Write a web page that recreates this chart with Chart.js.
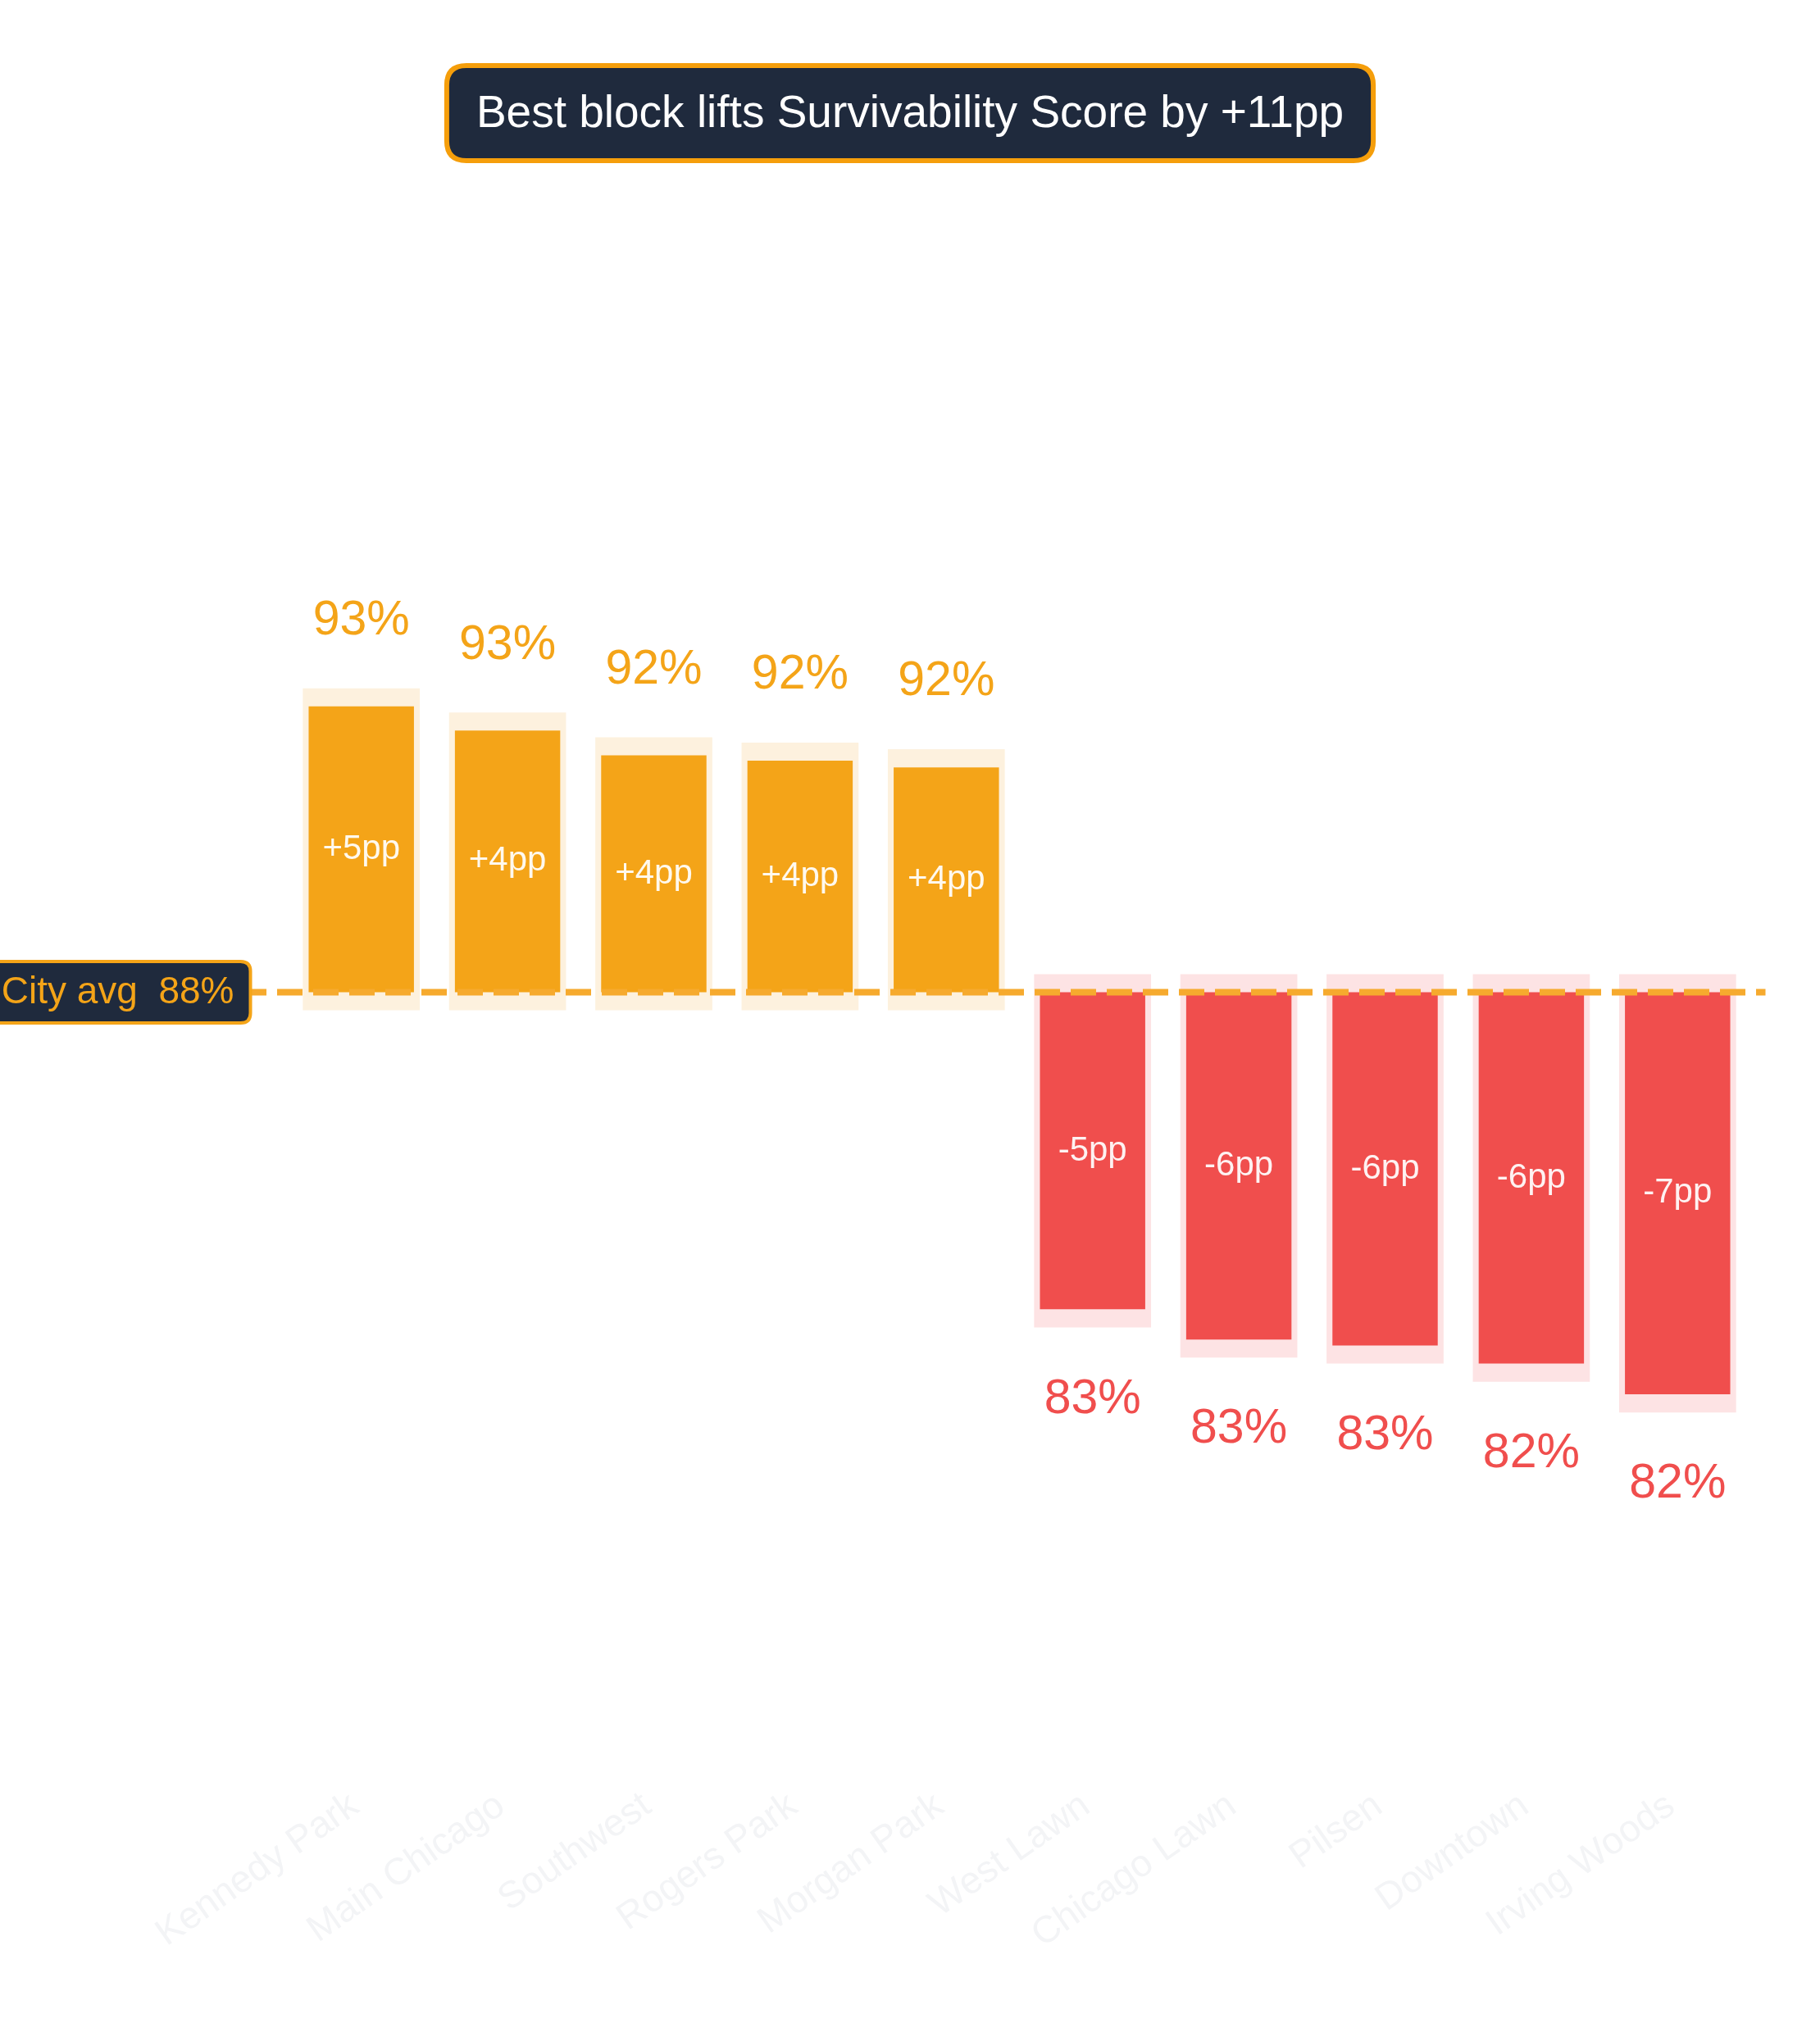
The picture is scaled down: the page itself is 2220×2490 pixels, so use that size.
<!DOCTYPE html>
<html><head><meta charset="utf-8">
<script src="https://cdn.jsdelivr.net/npm/chart.js@4.4.1/dist/chart.umd.min.js"></script>
<style>html,body{margin:0;padding:0;background:#fff;overflow:hidden}canvas{display:block}</style>
</head><body>
<canvas id="c" width="2220" height="2490" style="width:2220px;height:2490px"></canvas>
<script>
// ---- data ----
const categories = ['Kennedy Park','Main Chicago','Southwest','Rogers Park','Morgan Park','West Lawn','Chicago Lawn','Pilsen','Downtown','Irving Woods'];
const scores = [93.19, 92.79, 92.38, 92.29, 92.18, 83.19, 82.69, 82.59, 82.29, 81.78];
const cityAvg = 88.45;
const yRange = [75.35, 100];
const titleText = 'Best block lifts Survivability Score by +11pp';
const avgLabelText = 'City avg  88%';

// ---- style ----
const FONT = '"Liberation Sans", Arial, Helvetica, sans-serif';
const ORANGE = '#f4a418', RED = '#f04e4d';
const ORANGE_BG = '#fdf1de', RED_BG = '#fde3e4';
const NAVY = '#1f2a3d';
const LINE = '#f6aa2e';
const BG_PAD = 0.3; // value units of halo around each bar

const isUp = scores.map(s => s >= cityAvg);
const fillData = scores.map(s => [cityAvg, s]);
const haloData = scores.map(s => s >= cityAvg ? [cityAvg - BG_PAD, s + BG_PAD] : [s - BG_PAD, cityAvg + BG_PAD]);

function roundRect(ctx, x, y, w, h, r) {
  ctx.beginPath();
  ctx.moveTo(x + r, y);
  ctx.lineTo(x + w - r, y); ctx.quadraticCurveTo(x + w, y, x + w, y + r);
  ctx.lineTo(x + w, y + h - r); ctx.quadraticCurveTo(x + w, y + h, x + w - r, y + h);
  ctx.lineTo(x + r, y + h); ctx.quadraticCurveTo(x, y + h, x, y + h - r);
  ctx.lineTo(x, y + r); ctx.quadraticCurveTo(x, y, x + r, y);
  ctx.closePath();
}

const overlay = {
  id: 'overlay',
  afterDatasetsDraw(chart) {
    const ctx = chart.ctx, ca = chart.chartArea;
    const yS = chart.scales.y;
    const yAvg = yS.getPixelForValue(cityAvg);
    // dashed average line
    ctx.save();
    ctx.strokeStyle = LINE; ctx.lineWidth = 8;
    ctx.setLineDash([31, 13]); ctx.lineDashOffset = 14;
    ctx.beginPath(); ctx.moveTo(0, yAvg); ctx.lineTo(ca.right + 18, yAvg); ctx.stroke();
    ctx.restore();

    // labels
    const meta = chart.getDatasetMeta(1);
    ctx.save();
    ctx.textAlign = 'center'; ctx.textBaseline = 'middle';
    meta.data.forEach((bar, i) => {
      const up = isUp[i];
      const yEnd = yS.getPixelForValue(scores[i]);
      const d = scores[i] - cityAvg;
      const dl = (d >= 0 ? '+' : '-') + Math.round(Math.abs(d)) + 'pp';
      ctx.font = '42px ' + FONT;
      ctx.fillStyle = 'rgba(255,255,255,0.93)';
      ctx.fillText(dl, bar.x, (yEnd + yAvg) / 2);
      ctx.font = '59px ' + FONT;
      ctx.fillStyle = up ? ORANGE : RED;
      const ly = up ? yEnd - 104 : yEnd + 110;
      ctx.fillText(Math.round(scores[i]) + '%', bar.x, ly);
    });
    ctx.restore();

    // city avg label
    ctx.save();
    ctx.font = '46px ' + FONT;
    const tw = ctx.measureText(avgLabelText).width;
    const bw = tw + 40, bh = 75;
    const right = ca.left - 46;
    const bx = right - bw, by = yAvg - bh / 2;
    roundRect(ctx, bx, by, bw, bh, 12);
    ctx.fillStyle = NAVY; ctx.fill();
    ctx.lineWidth = 4; ctx.strokeStyle = ORANGE; ctx.stroke();
    ctx.fillStyle = ORANGE; ctx.textAlign = 'left'; ctx.textBaseline = 'middle';
    ctx.fillText(avgLabelText, bx + 20, yAvg + 1);
    ctx.restore();
  },
  afterDraw(chart) {
    const ctx = chart.ctx;
    ctx.save();
    ctx.font = '55px ' + FONT;
    const tw = ctx.measureText(titleText).width;
    const bw = tw + 72, bh = 116;
    const cx = chart.width / 2;
    const bx = cx - bw / 2, by = 80;
    roundRect(ctx, bx, by, bw, bh, 24);
    ctx.fillStyle = NAVY; ctx.fill();
    ctx.lineWidth = 6; ctx.strokeStyle = '#f59e0b'; ctx.stroke();
    ctx.fillStyle = '#ffffff'; ctx.textAlign = 'center'; ctx.textBaseline = 'middle';
    ctx.fillText(titleText, cx, by + bh / 2 + 2);
    ctx.restore();
  }
};

new Chart(document.getElementById('c'), {
  type: 'bar',
  data: {
    labels: categories,
    datasets: [
      { label: 'halo', data: haloData, backgroundColor: isUp.map(u => u ? ORANGE_BG : RED_BG),
        barPercentage: 0.8, categoryPercentage: 1, grouped: false, order: 2, borderWidth: 0 },
      { label: 'score', data: fillData, backgroundColor: isUp.map(u => u ? ORANGE : RED),
        barPercentage: 0.72, categoryPercentage: 1, grouped: false, order: 1, borderWidth: 0 }
    ]
  },
  options: {
    responsive: false, animation: false,
    layout: { padding: { left: 351.5, right: 84.5, top: 361, bottom: 0 } },
    plugins: { legend: { display: false }, tooltip: { enabled: false }, title: { display: false } },
    scales: {
      y: { display: false, min: yRange[0], max: yRange[1] },
      x: {
        grid: { display: false, drawTicks: false }, border: { display: false },
        ticks: { color: '#f3f4f6', font: { family: FONT, size: 46 }, minRotation: 35, maxRotation: 35, padding: 2, labelOffset: -8 },
        afterFit(scale) { scale.height = 316; }
      }
    }
  },
  plugins: [overlay]
});
</script>
</body></html>
